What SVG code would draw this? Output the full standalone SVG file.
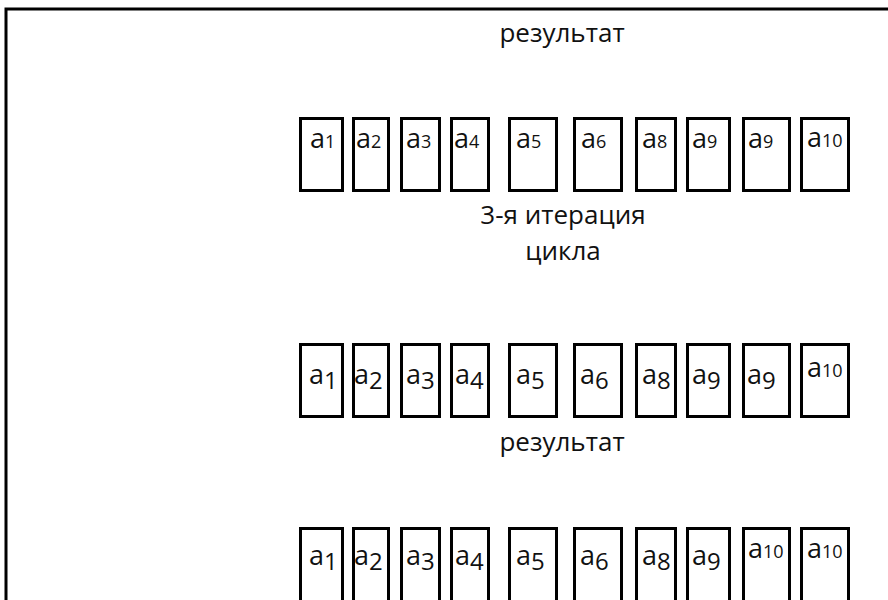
<svg xmlns="http://www.w3.org/2000/svg" width="888" height="600" viewBox="0 0 888 600">
  <style>
    .frame { fill: none; stroke: #000; stroke-width: 3; }
    .cell { fill: #fff; stroke: #000; stroke-width: 3; }
    .lbl { font-family: "Open Sans", "Liberation Sans", sans-serif; fill: #111; }
    .a { font-size: 27px; }
    .sm { font-size: 18px; }
    .sub { font-size: 24px; }
    .cap { font-family: "Open Sans", "Liberation Sans", sans-serif; font-size: 26px; fill: #111; text-anchor: middle; }
  </style>

  <!-- outer frame (top and left edges) -->
  <path class="frame" d="M6,600 V9 H888"/>

  <!-- captions -->
  <text id="cap-result-top" class="cap" x="562" y="42">результат</text>
  <text id="cap-iter" class="cap" x="563" y="224">3-я итерация</text>
  <text id="cap-cycle" class="cap" x="563" y="260">цикла</text>
  <text id="cap-result-mid" class="cap" x="562" y="451">результат</text>

  <!-- row 1 -->
  <g id="row1">
    <g id="r1c1"><rect class="cell" x="300.5" y="118.5" width="42" height="72"/><text class="lbl a" x="310" y="148">a<tspan class="sm">1</tspan></text></g>
    <g id="r1c2"><rect class="cell" x="353.5" y="118.5" width="35" height="72"/><text class="lbl a" x="356" y="148">a<tspan class="sm">2</tspan></text></g>
    <g id="r1c3"><rect class="cell" x="401.5" y="118.5" width="38" height="72"/><text class="lbl a" x="406" y="148">a<tspan class="sm">3</tspan></text></g>
    <g id="r1c4"><rect class="cell" x="451.5" y="118.5" width="37" height="72"/><text class="lbl a" x="454" y="148">a<tspan class="sm">4</tspan></text></g>
    <g id="r1c5"><rect class="cell" x="509.5" y="118.5" width="47" height="72"/><text class="lbl a" x="516" y="148">a<tspan class="sm">5</tspan></text></g>
    <g id="r1c6"><rect class="cell" x="574.5" y="118.5" width="47" height="72"/><text class="lbl a" x="581" y="148">a<tspan class="sm">6</tspan></text></g>
    <g id="r1c7"><rect class="cell" x="636.5" y="118.5" width="39" height="72"/><text class="lbl a" x="642" y="148">a<tspan class="sm">8</tspan></text></g>
    <g id="r1c8"><rect class="cell" x="687.5" y="118.5" width="42" height="72"/><text class="lbl a" x="692" y="148">a<tspan class="sm">9</tspan></text></g>
    <g id="r1c9"><rect class="cell" x="743.5" y="118.5" width="46" height="72"/><text class="lbl a" x="748" y="148">a<tspan class="sm">9</tspan></text></g>
    <g id="r1c10"><rect class="cell" x="801.5" y="118.5" width="47" height="72"/><text class="lbl a" x="807" y="147">a<tspan class="sm">10</tspan></text></g>
  </g>

  <!-- row 2 -->
  <g id="row2">
    <g id="r2c1"><rect class="cell" x="300.5" y="344.5" width="42" height="72"/><text class="lbl a" x="309" y="384">a<tspan class="sub" dy="5">1</tspan></text></g>
    <g id="r2c2"><rect class="cell" x="353.5" y="344.5" width="35" height="72"/><text class="lbl a" x="354" y="384">a<tspan class="sub" dy="5">2</tspan></text></g>
    <g id="r2c3"><rect class="cell" x="401.5" y="344.5" width="38" height="72"/><text class="lbl a" x="406" y="384">a<tspan class="sub" dy="5">3</tspan></text></g>
    <g id="r2c4"><rect class="cell" x="451.5" y="344.5" width="37" height="72"/><text class="lbl a" x="455" y="384">a<tspan class="sub" dy="5">4</tspan></text></g>
    <g id="r2c5"><rect class="cell" x="509.5" y="344.5" width="47" height="72"/><text class="lbl a" x="516" y="384">a<tspan class="sub" dy="5">5</tspan></text></g>
    <g id="r2c6"><rect class="cell" x="574.5" y="344.5" width="47" height="72"/><text class="lbl a" x="580" y="384">a<tspan class="sub" dy="5">6</tspan></text></g>
    <g id="r2c7"><rect class="cell" x="636.5" y="344.5" width="39" height="72"/><text class="lbl a" x="642" y="384">a<tspan class="sub" dy="5">8</tspan></text></g>
    <g id="r2c8"><rect class="cell" x="687.5" y="344.5" width="42" height="72"/><text class="lbl a" x="692" y="384">a<tspan class="sub" dy="5">9</tspan></text></g>
    <g id="r2c9"><rect class="cell" x="743.5" y="344.5" width="46" height="72"/><text class="lbl a" x="747" y="384">a<tspan class="sub" dy="5">9</tspan></text></g>
    <g id="r2c10"><rect class="cell" x="801.5" y="344.5" width="47" height="72"/><text class="lbl a" x="807" y="377">a<tspan class="sm">10</tspan></text></g>
  </g>

  <!-- row 3 -->
  <g id="row3">
    <g id="r3c1"><rect class="cell" x="300.5" y="528.5" width="42" height="80"/><text class="lbl a" x="309" y="565">a<tspan class="sub" dy="5">1</tspan></text></g>
    <g id="r3c2"><rect class="cell" x="353.5" y="528.5" width="35" height="80"/><text class="lbl a" x="354" y="565">a<tspan class="sub" dy="5">2</tspan></text></g>
    <g id="r3c3"><rect class="cell" x="401.5" y="528.5" width="38" height="80"/><text class="lbl a" x="406" y="565">a<tspan class="sub" dy="5">3</tspan></text></g>
    <g id="r3c4"><rect class="cell" x="451.5" y="528.5" width="37" height="80"/><text class="lbl a" x="455" y="565">a<tspan class="sub" dy="5">4</tspan></text></g>
    <g id="r3c5"><rect class="cell" x="509.5" y="528.5" width="47" height="80"/><text class="lbl a" x="516" y="565">a<tspan class="sub" dy="5">5</tspan></text></g>
    <g id="r3c6"><rect class="cell" x="574.5" y="528.5" width="47" height="80"/><text class="lbl a" x="580" y="565">a<tspan class="sub" dy="5">6</tspan></text></g>
    <g id="r3c7"><rect class="cell" x="636.5" y="528.5" width="39" height="80"/><text class="lbl a" x="642" y="565">a<tspan class="sub" dy="5">8</tspan></text></g>
    <g id="r3c8"><rect class="cell" x="687.5" y="528.5" width="42" height="80"/><text class="lbl a" x="692" y="565">a<tspan class="sub" dy="5">9</tspan></text></g>
    <g id="r3c9"><rect class="cell" x="743.5" y="528.5" width="46" height="80"/><text class="lbl a" x="748" y="558">a<tspan class="sm">10</tspan></text></g>
    <g id="r3c10"><rect class="cell" x="801.5" y="528.5" width="47" height="80"/><text class="lbl a" x="807" y="558">a<tspan class="sm">10</tspan></text></g>
  </g>
</svg>
